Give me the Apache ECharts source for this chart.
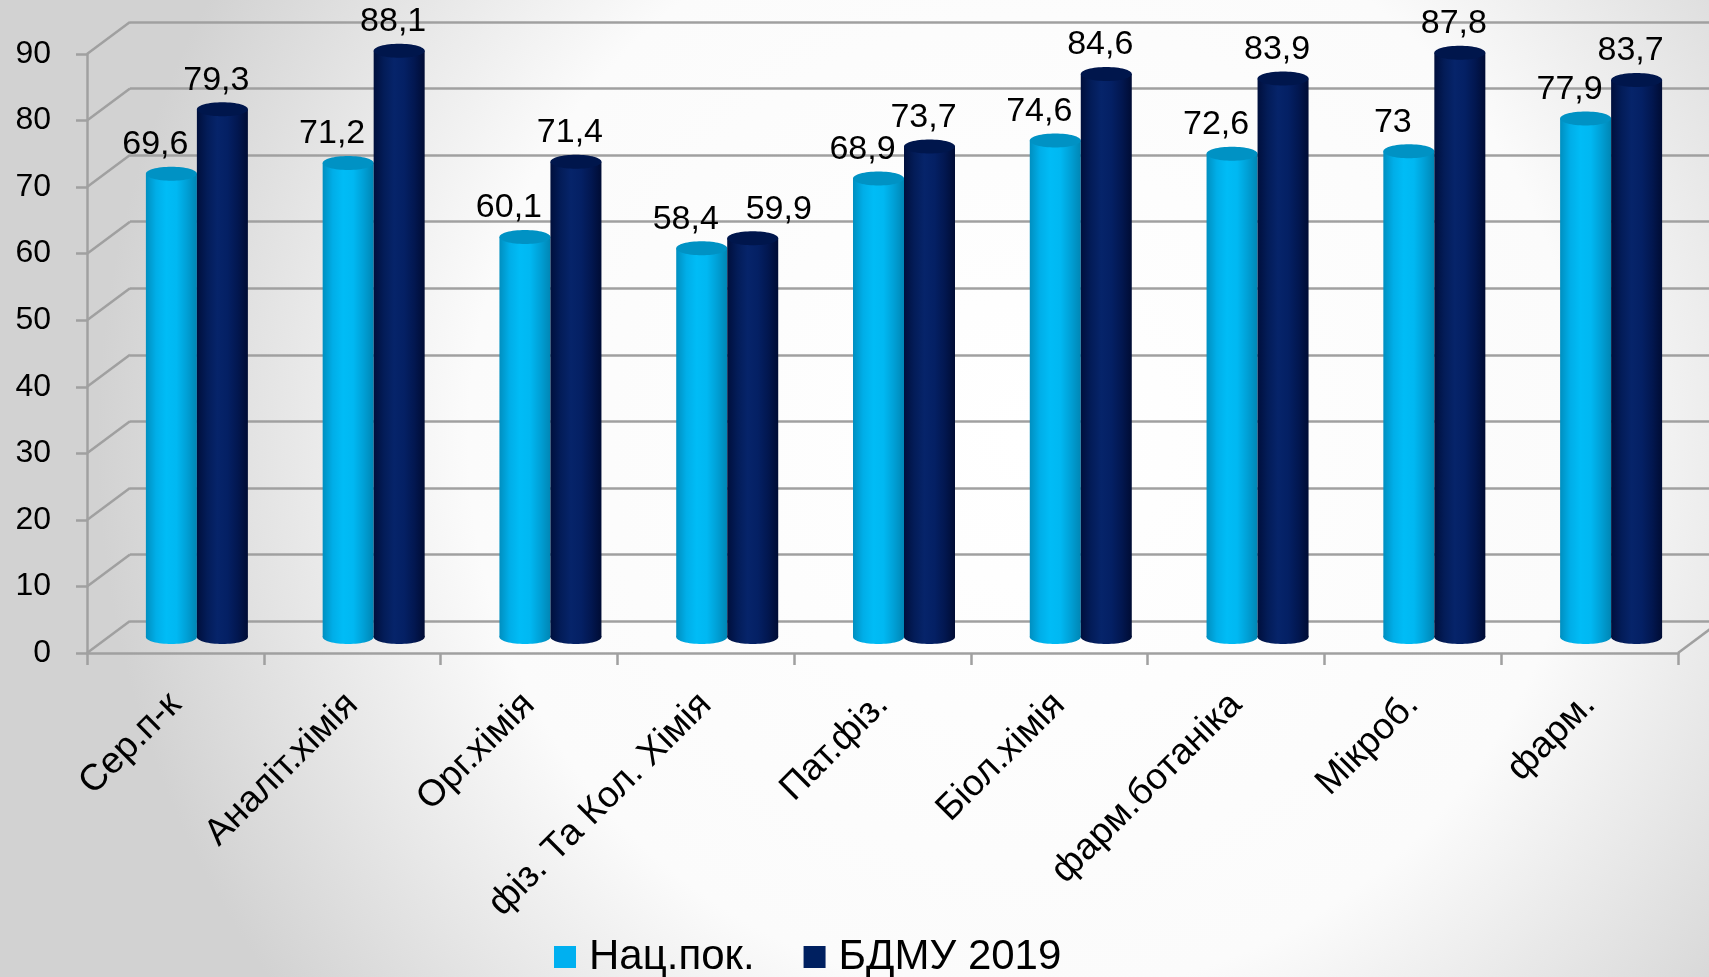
<!DOCTYPE html>
<html>
<head>
<meta charset="utf-8">
<script src="https://cdn.jsdelivr.net/npm/echarts@6/dist/echarts.min.js"></script>
<style>
  html, body { margin: 0; padding: 0; }
  #chart { width: 1709px; height: 977px; }
</style>
</head>
<body>
<div id="chart"></div>
<script>
var categories = ['Сер.п-к', 'Аналіт.хімія', 'Орг.хімія', 'фіз. Та Кол. Хімія', 'Пат.фіз.', 'Біол.хімія', 'фарм.ботаніка', 'Мікроб.', 'фарм.'];
var natValues = [69.6, 71.2, 60.1, 58.4, 68.9, 74.6, 72.6, 73, 77.9];
var bdmuValues = [79.3, 88.1, 71.4, 59.9, 73.7, 84.6, 83.9, 87.8, 83.7];
var yTicks = [0, 10, 20, 30, 40, 50, 60, 70, 80, 90];
var seriesNames = ['Нац.пок.', 'БДМУ 2019'];

// 3d look: back wall offset and bar depth
var DX = 43, DY = -32;
var BAR_W = 51;
var FONT = 'Liberation Sans, Arial, sans-serif';

function fmt(v) {
  return String(v).replace('.', ',');
}

function grad(stops) {
  return new echarts.graphic.LinearGradient(0, 0, 1, 0, stops.map(function (c, i) {
    return { offset: i / (stops.length - 1), color: c };
  }));
}

var lightBody = ['#008fc0', '#00aee8', '#00bcf6', '#00b8f2', '#00a0d6', '#0086b4'];
var darkBody = ['#000f3c', '#031c58', '#06246a', '#042064', '#021750', '#000c34'];

function cylinder(side, body, topColor) {
  return function (params, api) {
    var i = api.value(0);
    var top = api.coord([i, api.value(1)]);
    var base = api.coord([i, 0]);
    var x = side < 0 ? top[0] - BAR_W : top[0];
    var rx = BAR_W / 2, ry = 7;
    var fill = grad(body);
    // push the dark label aside when both labels sit at almost the same height
    var shift = side < 0 ? -16 : -6;
    if (side > 0 && Math.abs(bdmuValues[i] - natValues[i]) < 4) shift = 26;
    return {
      type: 'group',
      children: [
        { type: 'ellipse', shape: { cx: x + rx, cy: base[1], rx: rx, ry: ry }, style: { fill: fill } },
        { type: 'rect', shape: { x: x, y: top[1], width: BAR_W, height: base[1] - top[1] }, style: { fill: fill } },
        { type: 'ellipse', shape: { cx: x + rx, cy: top[1], rx: rx, ry: ry }, style: { fill: topColor } },
        {
          type: 'text',
          style: {
            text: fmt(api.value(1)),
            x: x + rx + shift,
            y: top[1] - 12,
            align: 'center',
            verticalAlign: 'bottom',
            font: '34px ' + FONT,
            fill: '#000'
          }
        }
      ]
    };
  };
}

// floor / side wall diagonals
function walls(params, api) {
  var v = api.value(0);
  var p = api.coord([0, v]);
  var half = api.size([1, 0])[0] / 2;
  var x0 = p[0] - half;
  var lineStyle = { stroke: '#a0a0a0', lineWidth: 2.5 };
  var children = [
    { type: 'line', shape: { x1: x0, y1: p[1], x2: x0 + DX, y2: p[1] + DY }, style: lineStyle }
  ];
  if (v === 0) {
    var e = api.coord([categories.length - 1, 0]);
    var x1 = e[0] + half;
    children.push({ type: 'line', shape: { x1: x1, y1: e[1], x2: x1 + DX, y2: e[1] + DY }, style: lineStyle });
  }
  return { type: 'group', children: children };
}

var FRONT = { left: 87, top: 54, width: 1591, height: 599 };

var chart = echarts.init(document.getElementById('chart'));
chart.setOption({
  animation: false,
  backgroundColor: new echarts.graphic.RadialGradient(0.6, 0.45, 0.95, [
    { offset: 0, color: '#ffffff' },
    { offset: 0.6, color: '#fbfbfb' },
    { offset: 1, color: '#d2d2d2' }
  ]),
  legend: {
    bottom: -6,
    left: 549,
    itemWidth: 22,
    itemHeight: 22,
    itemGap: 49,
    icon: 'rect',
    data: seriesNames,
    textStyle: { fontSize: 42, fontFamily: FONT, color: '#000', padding: [0, 0, 0, 8] }
  },
  grid: [
    FRONT,
    { left: FRONT.left + DX, top: FRONT.top + DY, width: FRONT.width, height: FRONT.height },
    { left: FRONT.left + DX / 2, top: FRONT.top + DY / 2, width: FRONT.width, height: FRONT.height }
  ],
  xAxis: [
    {
      gridIndex: 0,
      type: 'category',
      data: categories,
      axisLine: { lineStyle: { color: '#a0a0a0', width: 2.5 } },
      axisTick: { show: true, interval: 0, length: 12, lineStyle: { color: '#a0a0a0', width: 2.5 } },
      axisLabel: { interval: 0, rotate: 45, margin: 46, fontSize: 37, fontFamily: FONT, color: '#000' }
    },
    { gridIndex: 1, type: 'category', data: categories, show: false },
    { gridIndex: 2, type: 'category', data: categories, show: false }
  ],
  yAxis: [
    {
      gridIndex: 0,
      type: 'value',
      min: 0,
      max: 90,
      interval: 10,
      axisLine: { show: true, lineStyle: { color: '#a0a0a0', width: 2.5 } },
      axisTick: { show: true, length: 11, lineStyle: { color: '#a0a0a0', width: 2.5 } },
      axisLabel: { margin: 36, fontSize: 32, fontFamily: FONT, color: '#000' },
      splitLine: { show: false }
    },
    {
      gridIndex: 1,
      type: 'value',
      min: 0,
      max: 90,
      interval: 10,
      axisLine: { show: false },
      axisTick: { show: false },
      axisLabel: { show: false },
      splitLine: { show: true, lineStyle: { color: '#a0a0a0', width: 2.5 } }
    },
    { gridIndex: 2, type: 'value', min: 0, max: 90, interval: 10, show: false, splitLine: { show: false } }
  ],
  series: [
    {
      name: 'walls',
      type: 'custom',
      xAxisIndex: 0,
      yAxisIndex: 0,
      silent: true,
      renderItem: walls,
      data: yTicks.map(function (v) { return [v]; }),
      encode: { y: 0 }
    },
    {
      name: seriesNames[0],
      type: 'custom',
      xAxisIndex: 2,
      yAxisIndex: 2,
      itemStyle: { color: '#00b0f0' },
      renderItem: cylinder(-1, lightBody, '#0092c4'),
      data: natValues.map(function (v, i) { return [i, v]; }),
      encode: { x: 0, y: 1 }
    },
    {
      name: seriesNames[1],
      type: 'custom',
      xAxisIndex: 2,
      yAxisIndex: 2,
      itemStyle: { color: '#002060' },
      renderItem: cylinder(1, darkBody, '#00164c'),
      data: bdmuValues.map(function (v, i) { return [i, v]; }),
      encode: { x: 0, y: 1 }
    }
  ]
});
</script>
</body>
</html>
